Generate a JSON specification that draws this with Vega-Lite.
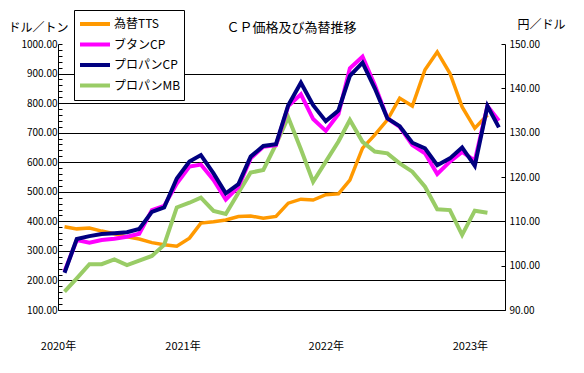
{
  "$schema": "https://vega.github.io/schema/vega-lite/v6.json",
  "width": 447,
  "height": 266,
  "autosize": {"type": "none"},
  "padding": {"left": 58, "top": 44, "right": 79, "bottom": 63},
  "background": "white",
  "config": {"font": "Noto Sans CJK JP", "view": {"stroke": null}},
  "title": {"text": "ＣＰ価格及び為替推移", "frame": "group", "anchor": "middle", "dx": 10, "dy": 35, "offset": 10, "fontSize": 13, "fontWeight": "normal", "color": "black"},
  "data": {"values": [
    {"month": "2020-04-01", "為替TTS": 108.8, "ブタンCP": 230, "プロパンCP": 226, "プロパンMB": 162},
    {"month": "2020-05-01", "為替TTS": 108.3, "ブタンCP": 337, "プロパンCP": 340, "プロパンMB": 207},
    {"month": "2020-06-01", "為替TTS": 108.5, "ブタンCP": 328, "プロパンCP": 350, "プロパンMB": 255},
    {"month": "2020-07-01", "為替TTS": 107.8, "ブタンCP": 337, "プロパンCP": 357, "プロパンMB": 255},
    {"month": "2020-08-01", "為替TTS": 107.2, "ブタンCP": 341, "プロパンCP": 360, "プロパンMB": 271},
    {"month": "2020-09-01", "為替TTS": 106.5, "ブタンCP": 348, "プロパンCP": 363, "プロパンMB": 252},
    {"month": "2020-10-01", "為替TTS": 106.0, "ブタンCP": 358, "プロパンCP": 374, "プロパンMB": 267},
    {"month": "2020-11-01", "為替TTS": 105.2, "ブタンCP": 438, "プロパンCP": 432, "プロパンMB": 283},
    {"month": "2020-12-01", "為替TTS": 104.7, "ブタンCP": 452, "プロパンCP": 447, "プロパンMB": 320},
    {"month": "2021-01-01", "為替TTS": 104.4, "ブタンCP": 528, "プロパンCP": 545, "プロパンMB": 447},
    {"month": "2021-02-01", "為替TTS": 106.2, "ブタンCP": 585, "プロパンCP": 602, "プロパンMB": 463},
    {"month": "2021-03-01", "為替TTS": 109.6, "ブタンCP": 592, "プロパンCP": 624, "プロパンMB": 480},
    {"month": "2021-04-01", "為替TTS": 109.9, "ブタンCP": 540, "プロパンCP": 562, "プロパンMB": 435},
    {"month": "2021-05-01", "為替TTS": 110.3, "ブタンCP": 474, "プロパンCP": 495, "プロパンMB": 425},
    {"month": "2021-06-01", "為替TTS": 111.1, "ブタンCP": 517, "プロパンCP": 526, "プロパンMB": 497},
    {"month": "2021-07-01", "為替TTS": 111.2, "ブタンCP": 613, "プロパンCP": 619, "プロパンMB": 565},
    {"month": "2021-08-01", "為替TTS": 110.7, "ブタンCP": 652, "プロパンCP": 655, "プロパンMB": 574},
    {"month": "2021-09-01", "為替TTS": 111.1, "ブタンCP": 658, "プロパンCP": 661, "プロパンMB": 660},
    {"month": "2021-10-01", "為替TTS": 114.1, "ブタンCP": 790, "プロパンCP": 793, "プロパンMB": 752},
    {"month": "2021-11-01", "為替TTS": 115.0, "ブタンCP": 830, "プロパンCP": 869, "プロパンMB": 644},
    {"month": "2021-12-01", "為替TTS": 114.8, "ブタンCP": 746, "プロパンCP": 793, "プロパンMB": 534},
    {"month": "2022-01-01", "為替TTS": 116.0, "ブタンCP": 706, "プロパンCP": 739, "プロパンMB": 602},
    {"month": "2022-02-01", "為替TTS": 116.2, "ブタンCP": 763, "プロパンCP": 775, "プロパンMB": 670},
    {"month": "2022-03-01", "為替TTS": 119.3, "ブタンCP": 918, "プロパンCP": 892, "プロパンMB": 743},
    {"month": "2022-04-01", "為替TTS": 126.5, "ブタンCP": 957, "プロパンCP": 937, "プロパンMB": 669},
    {"month": "2022-05-01", "為替TTS": 129.5, "ブタンCP": 861, "プロパンCP": 850, "プロパンMB": 636},
    {"month": "2022-06-01", "為替TTS": 132.9, "ブタンCP": 748, "プロパンCP": 748, "プロパンMB": 630},
    {"month": "2022-07-01", "為替TTS": 137.8, "ブタンCP": 720, "プロパンCP": 722, "プロパンMB": 596},
    {"month": "2022-08-01", "為替TTS": 136.0, "ブタンCP": 658, "プロパンCP": 666, "プロパンMB": 568},
    {"month": "2022-09-01", "為替TTS": 144.2, "ブタンCP": 630, "プロパンCP": 647, "プロパンMB": 517},
    {"month": "2022-10-01", "為替TTS": 148.2, "ブタンCP": 560, "プロパンCP": 590, "プロパンMB": 441},
    {"month": "2022-11-01", "為替TTS": 143.4, "ブタンCP": 602, "プロパンCP": 613, "プロパンMB": 438},
    {"month": "2022-12-01", "為替TTS": 135.8, "ブタンCP": 635, "プロパンCP": 650, "プロパンMB": 354},
    {"month": "2023-01-01", "為替TTS": 131.0, "ブタンCP": 605, "プロパンCP": 588, "プロパンMB": 436},
    {"month": "2023-02-01", "為替TTS": 134.0, "ブタンCP": 790, "プロパンCP": 790, "プロパンMB": 429},
    {"month": "2023-03-01", "ブタンCP": 740, "プロパンCP": 718}
  ]},
  "encoding": {
    "x": {
      "field": "month",
      "type": "temporal",
      "scale": {"domain": [
        {"year": 2020, "month": 3, "date": 16, "utc": true},
        {"year": 2023, "month": 3, "date": 16, "utc": true}
      ]},
      "axis": {
        "title": null,
        "values": [
          {"year": 2020, "month": 3, "date": 16, "utc": true},
          {"year": 2021, "month": 1, "date": 15, "utc": true},
          {"year": 2022, "month": 1, "date": 1, "utc": true},
          {"year": 2022, "month": 12, "date": 20, "utc": true}
        ],
        "labelExpr": "timeFormat(datum.value + 1728000000, '%Y') + '年'",
        "ticks": false,
        "grid": false,
        "domainColor": "black",
        "labelPadding": 30,
        "labelFontSize": 11,
        "labelColor": "black",
        "labelAngle": 0,
        "labelFlush": false,
        "labelOverlap": false
      }
    }
  },
  "layer": [
    {
      "transform": [{"fold": ["為替TTS"], "as": ["series", "value"]}],
      "mark": {"type": "line", "strokeWidth": 3.5},
      "encoding": {
        "y": {
          "field": "value",
          "type": "quantitative",
          "scale": {"domain": [90, 150], "nice": false, "zero": false},
          "axis": {
            "orient": "right",
            "title": "円／ドル",
            "titleAngle": 0,
            "titleX": 12,
            "titleY": -20,
            "titleAlign": "left",
            "titleBaseline": "middle",
            "titleFontSize": 12,
            "titleFontWeight": "normal",
            "titleColor": "black",
            "values": [90, 100, 110, 120, 130, 140, 150],
            "format": ".2f",
            "grid": false,
            "tickSize": -4,
            "tickColor": "black",
            "domainColor": "black",
            "labelPadding": 8,
            "labelFontSize": 10,
            "labelColor": "black"
          }
        },
        "color": {
          "field": "series",
          "type": "nominal",
          "scale": {
            "domain": ["為替TTS", "ブタンCP", "プロパンCP", "プロパンMB"],
            "range": ["#FF9900", "#FF00FF", "#000080", "#99CC66"]
          },
          "legend": {
            "orient": "none",
            "legendX": 16,
            "legendY": -34,
            "title": null,
            "symbolType": "stroke",
            "symbolSize": 900,
            "symbolStrokeWidth": 4,
            "labelFontSize": 12,
            "labelColor": "black",
            "strokeColor": "black",
            "fillColor": "white",
            "padding": 4,
            "clipHeight": 20,
            "rowPadding": 0.5,
            "labelOffset": 2
          }
        }
      }
    },
    {
      "transform": [{"fold": ["プロパンMB", "ブタンCP", "プロパンCP"], "as": ["series", "value"]}],
      "mark": {"type": "line"},
      "encoding": {
        "y": {
          "field": "value",
          "type": "quantitative",
          "scale": {"domain": [100, 1000], "nice": false, "zero": false},
          "axis": {
            "orient": "left",
            "title": "ドル／トン",
            "titleAngle": 0,
            "titleX": -50,
            "titleY": -17,
            "titleAlign": "left",
            "titleBaseline": "middle",
            "titleFontSize": 12,
            "titleFontWeight": "normal",
            "titleColor": "black",
            "values": [100, 120, 140, 160, 180, 200, 220, 240, 260, 280, 300, 320, 340, 360, 380, 400, 420, 440, 460, 480, 500, 520, 540, 560, 580, 600, 620, 640, 660, 680, 700, 720, 740, 760, 780, 800, 820, 840, 860, 880, 900, 920, 940, 960, 980, 1000],
            "labelExpr": "datum.value % 100 === 0 ? format(datum.value, '.2f') : ''",
            "grid": true,
            "gridColor": "black",
            "gridOpacity": {"condition": {"test": "datum.value % 100 !== 0 || datum.value >= 1000", "value": 0}, "value": 1},
            "tickSize": -4,
            "tickColor": "black",
            "domainColor": "black",
            "labelPadding": 5,
            "labelFontSize": 10,
            "labelColor": "black"
          }
        },
        "color": {"field": "series", "type": "nominal"},
        "strokeWidth": {
          "field": "series",
          "type": "nominal",
          "scale": {"domain": ["ブタンCP", "プロパンCP", "プロパンMB"], "range": [4, 4, 2.5]},
          "legend": null
        }
      }
    }
  ],
  "resolve": {"scale": {"y": "independent"}}
}
